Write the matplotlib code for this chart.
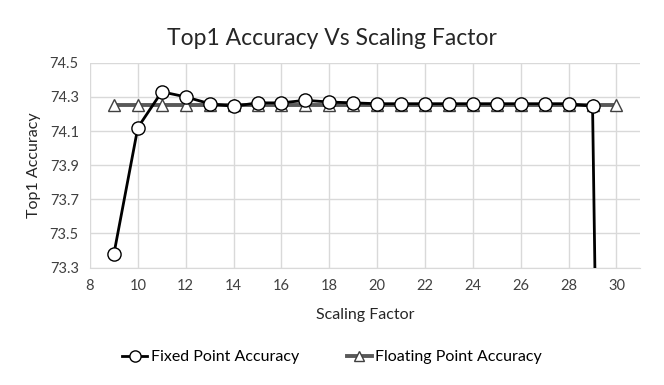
import matplotlib
matplotlib.use("Agg")
import matplotlib.pyplot as plt
import numpy as np

plt.rcParams['font.family'] = ['Lato', 'DejaVu Sans']

scaling = [9, 10, 11, 12, 13, 14, 15, 16, 17, 18, 19, 20, 21, 22, 23, 24, 25, 26, 27, 28, 29, 30]
fixed_acc = [73.38, 74.12, 74.33, 74.30, 74.26, 74.245, 74.265, 74.265, 74.28, 74.27, 74.265,
             74.26, 74.26, 74.26, 74.26, 74.26, 74.26, 74.26, 74.26, 74.26, 74.245, 64.5]
float_acc = [74.25] * len(scaling)
xticks = np.arange(8, 31, 2)
yticks = [73.3, 73.5, 73.7, 73.9, 74.1, 74.3, 74.5]

fig = plt.figure(figsize=(6.64, 3.85), dpi=100)
ax = fig.add_axes([0.1355, 0.305, 0.829, 0.532])

ax.plot(scaling, float_acc, color='#595959', lw=2.8, marker='^', ms=8,
        mfc='white', mec='#404040', mew=1, label='Floating Point Accuracy', zorder=3)
ax.plot(scaling, fixed_acc, color='black', lw=2, marker='o', ms=9.5,
        mfc='white', mec='black', mew=1, label='Fixed Point Accuracy', zorder=4)

ax.set_xlim(8, 31)
ax.set_ylim(73.3, 74.5)
ax.set_xticks(xticks)
ax.set_yticks(yticks)
ax.set_yticklabels([f"{v:.1f}" for v in yticks])
ax.grid(True, color='#d9d9d9', lw=1)
ax.set_axisbelow(True)
for s in ax.spines.values():
    s.set_visible(False)
ax.spines['bottom'].set_visible(True)
ax.spines['bottom'].set_color('#d9d9d9')
ax.tick_params(length=0, labelsize=10.5, colors='#404040', pad=8)

ax.set_xlabel('Scaling Factor', fontsize=11.5, color='#262626', labelpad=11)
ax.set_ylabel('Top1 Accuracy', fontsize=11.5, color='#262626', labelpad=6)
fig.suptitle('Top1 Accuracy Vs Scaling Factor', fontsize=16.5, color='#262626',
             x=0.5, y=0.9, va='center')

h, l = ax.get_legend_handles_labels()
fig.legend(h[::-1], l[::-1], loc='center', bbox_to_anchor=(0.5, 0.072), ncol=2,
           frameon=False, fontsize=11.5, handlelength=1.6, handletextpad=0.2,
           columnspacing=3.0, markerscale=0.85)

fig.savefig('out.png', dpi=100)
